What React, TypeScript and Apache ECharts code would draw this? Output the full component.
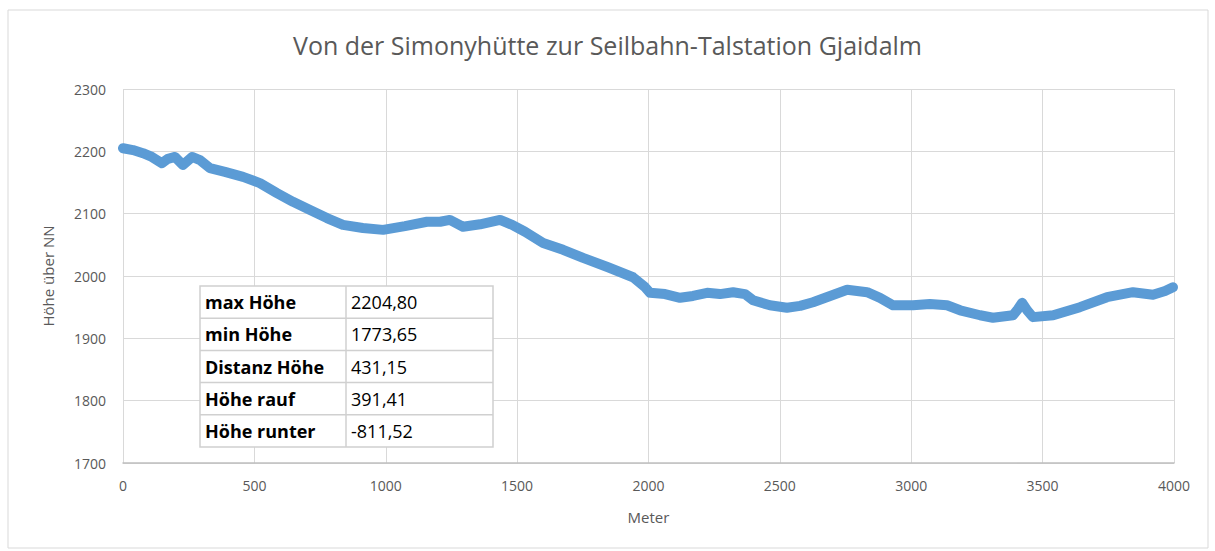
import React, { useEffect, useRef } from "react";
import * as echarts from "echarts";

const meters = [0, 38, 76, 110, 148, 171, 198, 228, 263, 293, 331, 388, 457, 521, 586, 647, 712, 776, 837, 913, 990, 1073, 1157, 1207, 1244, 1294, 1359, 1435, 1481, 1530, 1599, 1675, 1751, 1846, 1941, 1987, 2006, 2063, 2120, 2169, 2223, 2272, 2322, 2367, 2398, 2462, 2527, 2577, 2626, 2691, 2756, 2832, 2881, 2931, 3007, 3071, 3136, 3186, 3262, 3311, 3387, 3406, 3422, 3441, 3463, 3540, 3642, 3745, 3844, 3920, 3966, 3996];
const heights = [2205, 2202, 2197, 2191, 2181, 2188, 2191, 2178, 2191, 2186, 2173, 2167, 2159, 2149, 2133, 2119, 2106, 2093, 2082, 2077, 2074, 2080, 2087, 2087, 2090, 2079, 2083, 2090, 2082, 2071, 2053, 2042, 2029, 2014, 1998, 1982, 1973, 1971, 1965, 1968, 1973, 1971, 1974, 1971, 1961, 1953, 1949, 1952, 1958, 1968, 1978, 1974, 1965, 1953, 1953, 1955, 1953, 1945, 1937, 1933, 1937, 1947, 1957, 1945, 1934, 1937, 1950, 1966, 1974, 1970, 1976, 1982];

const tableLabels = ["max Höhe", "min Höhe", "Distanz Höhe", "Höhe rauf", "Höhe runter"];
const tableValues = ["2204,80", "1773,65", "431,15", "391,41", "-811,52"];

const titleText = "Von der Simonyhütte zur Seilbahn-Talstation Gjaidalm";
const xName = "Meter";
const yName = "Höhe über NN";

export default function App() {
  const ref = useRef<HTMLDivElement>(null);
  useEffect(() => {
    document.body.style.margin = "0";
    const chart = echarts.init(ref.current!, null, { renderer: "svg" });
    const font = "'Open Sans', 'Noto Sans', sans-serif";
    const tx = 200, ty = 286, c1 = 146, c2 = 147, rh = 32.2;
    const Z = 100;
    const tableEls: any[] = [];
    tableEls.push({
      type: "rect",
      z: Z,
      shape: { x: tx, y: ty, width: c1 + c2, height: rh * tableLabels.length },
      style: { fill: "#ffffff", stroke: "#d0d0d0", lineWidth: 1.5 },
    });
    tableLabels.forEach((lab, i) => {
      const y = ty + rh * i;
      if (i > 0) {
        tableEls.push({
          type: "line",
          z: Z + 1,
          shape: { x1: tx, y1: y, x2: tx + c1 + c2, y2: y },
          style: { stroke: "#d0d0d0", lineWidth: 1.5 },
        });
      }
      tableEls.push({
        type: "text",
        z: Z + 2,
        x: tx + 5,
        y: y + rh / 2,
        style: { text: lab, fill: "#000", font: `bold 18px ${font}`, verticalAlign: "middle" },
      });
      tableEls.push({
        type: "text",
        z: Z + 2,
        x: tx + c1 + 5,
        y: y + rh / 2,
        style: { text: tableValues[i], fill: "#000", font: `18px ${font}`, verticalAlign: "middle" },
      });
    });
    tableEls.push({
      type: "line",
      z: Z + 1,
      shape: { x1: tx + c1, y1: ty, x2: tx + c1, y2: ty + rh * tableLabels.length },
      style: { stroke: "#d0d0d0", lineWidth: 1.5 },
    });

    chart.setOption({
      animation: false,
      backgroundColor: "#ffffff",
      title: {
        text: titleText,
        left: "center",
        top: 27,
        textStyle: { fontFamily: font, fontSize: 25, fontWeight: "normal", color: "#595959" },
      },
      grid: { left: 123, right: 41, top: 89, bottom: 88 },
      xAxis: {
        type: "value",
        min: 0,
        max: 4000,
        interval: 500,
        name: xName,
        nameLocation: "middle",
        nameGap: 46,
        nameTextStyle: { fontFamily: font, fontSize: 15, color: "#595959" },
        axisLine: { show: true, lineStyle: { color: "#bfbfbf", width: 1.5 } },
        axisTick: { show: false },
        axisLabel: { fontFamily: font, fontSize: 14, color: "#595959", margin: 15, formatter: (v: number) => String(v) },
        splitLine: { show: true, lineStyle: { color: "#d9d9d9", width: 1 } },
      },
      yAxis: {
        type: "value",
        min: 1700,
        max: 2300,
        interval: 100,
        name: yName,
        nameLocation: "middle",
        nameGap: 68,
        nameTextStyle: { fontFamily: font, fontSize: 15, color: "#595959" },
        axisLine: { show: false },
        axisTick: { show: false },
        axisLabel: { fontFamily: font, fontSize: 14, color: "#595959", margin: 17, formatter: (v: number) => String(v) },
        splitLine: { show: true, lineStyle: { color: "#d9d9d9", width: 1 } },
      },
      series: [
        {
          type: "line",
          data: meters.map((m, i) => [m, heights[i]]),
          showSymbol: false,
          symbol: "none",
          smooth: false,
          lineStyle: { color: "#5B9BD5", width: 10, cap: "round", join: "round" },
          z: 2,
        },
      ],
      graphic: [
        {
          type: "rect",
          shape: { x: 8, y: 10, width: 1200, height: 538 },
          style: { fill: "none", stroke: "#d9d9d9", lineWidth: 1 },
          z: 0,
          silent: true,
        },
        ...tableEls,
      ],
    });
    return () => chart.dispose();
  }, []);
  return <div ref={ref} style={{ width: 1215, height: 551 }} />;
}
